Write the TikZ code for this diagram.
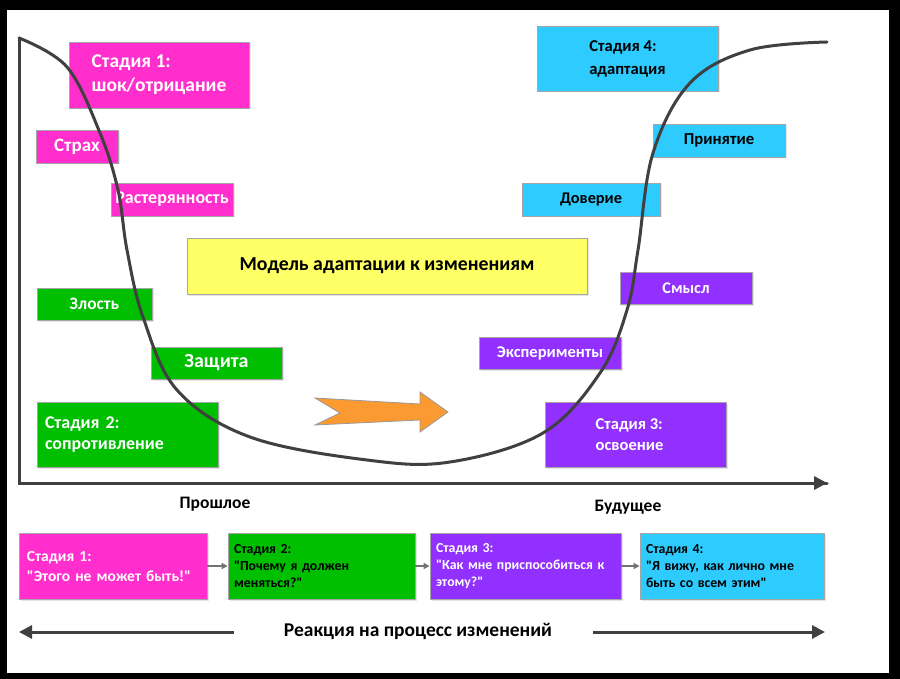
\documentclass[tikz,border=0pt]{standalone}
\usepackage{fontspec}
\setmainfont{Carlito}[Ligatures=TeXOff]
\usepackage{xcolor}
\usetikzlibrary{arrows.meta,shadows}
\definecolor{pinkst}{HTML}{FF2ECC}
\definecolor{greenst}{HTML}{00BE00}
\definecolor{cyanst}{HTML}{2ECBFF}
\definecolor{purplest}{HTML}{9130FF}
\definecolor{yellowst}{HTML}{FFFF66}
\definecolor{orangest}{HTML}{FA9A30}
\definecolor{linegray}{HTML}{404040}

\tikzset{
  box/.style={draw=gray!70, line width=0.7pt, inner sep=0pt, align=left,
    drop shadow={opacity=0.2, shadow xshift=1.5pt, shadow yshift=-1.5pt}},
  pinkbox/.style={box, fill=pinkst, text=white},
  greenbox/.style={box, fill=greenst, text=white},
  cyanbox/.style={box, fill=cyanst, text=black},
  purplebox/.style={box, fill=purplest, text=white},
  curve/.style={draw=linegray, line width=3pt},
  bigarrow/.style={draw=linegray, line width=3pt, -{Triangle[length=13pt,width=13pt]}},
  smallarrow/.style={draw=gray!90!black, line width=1.5pt, -{Triangle[length=6pt,width=6pt]}},
}

\begin{document}
\begin{tikzpicture}[x=1pt,y=-1pt]
\useasboundingbox (0,0) rectangle (900,679);
\fill[black] (0,0) rectangle (900,679);
\fill[white] (7,10) rectangle (889,673);

% stages on the curve
\node[pinkbox, minimum width=180pt, minimum height=66pt, font=\bfseries\fontsize{19.5}{24}\selectfont] (st1) at (159,75) {Стадия 1:\\шок/отрицание};
\node[pinkbox, minimum width=82pt, minimum height=33pt, font=\bfseries\fontsize{19}{20}\selectfont] (strah) at (77,146.5) {Страх};
\node[pinkbox, minimum width=122pt, minimum height=33pt, font=\bfseries\fontsize{18}{20}\selectfont] (rast) at (172,199.5) {Растерянность};
\node[box, fill=yellowst, minimum width=400pt, minimum height=56pt, font=\bfseries\fontsize{19.8}{22}\selectfont] (model) at (387,266) {\raisebox{3pt}{Модель адаптации к изменениям}};
\node[greenbox, minimum width=115pt, minimum height=32pt, font=\bfseries\fontsize{17.4}{19}\selectfont] (zlost) at (94.5,304) {Злость};
\node[greenbox, minimum width=131pt, minimum height=32pt, font=\bfseries\fontsize{20}{22}\selectfont] (zash) at (216.5,363) {Защита};
\node[greenbox, minimum height=65pt, text width=165pt, inner xsep=8pt, font=\bfseries\fontsize{17.9}{21}\selectfont] (st2) at (127.5,434.5) {Стадия 2:\\сопротивление};

\node[cyanbox, minimum width=181pt, minimum height=65pt, font=\bfseries\fontsize{16.6}{23}\selectfont] (st4) at (627.5,58.5) {Стадия 4:\\адаптация};
\node[cyanbox, minimum width=132pt, minimum height=33pt, font=\bfseries\fontsize{16.7}{18}\selectfont] (prin) at (719,140.5) {Принятие};
\node[cyanbox, minimum width=138pt, minimum height=33pt, font=\bfseries\fontsize{16.3}{18}\selectfont] (dov) at (591,199.5) {Доверие};
\node[purplebox, minimum width=132pt, minimum height=32pt, font=\bfseries\fontsize{16.3}{18}\selectfont] (smysl) at (686,288) {Смысл};
\node[purplebox, minimum width=142pt, minimum height=32pt, font=\bfseries\fontsize{16.5}{18}\selectfont] (eksp) at (550,353) {Эксперименты};
\node[purplebox, minimum width=181pt, minimum height=65pt, font=\bfseries\fontsize{16.5}{21}\selectfont] (st3) at (635.5,434.5) {\hspace*{-12pt}Стадия 3:\\\hspace*{-12pt}освоение};

% axes and curve
\coordinate (top) at (19,38);
\coordinate (corner) at (19,483);
\coordinate (far) at (827,483);
\draw[curve, line cap=round] (top) -- (corner) -- (far);
\fill[linegray] (far) -- ++(-13,-7) -- ++(0,14) -- cycle;
\draw[curve, line cap=round] plot[smooth, tension=0.6] coordinates {(19,38) (67,67) (100,133) (118,190)
  (127,250) (143,317) (177,390) (250,437) (367,460) (450,462) (543,433) (600,373) (627,310)
  (638,250) (653,153) (690,83) (750,50) (827,42)};

% orange arrow
\draw[fill=orangest, draw=gray!80, line width=0.8pt] (315,398) -- (420,404) -- (420,392) -- (448,412)
  -- (420,432) -- (420,420) -- (315,425) -- (340,413) -- cycle;

\node[font=\bfseries\fontsize{17.5}{19}\selectfont] (past) at (215,504) {Прошлое};
\node[font=\bfseries\fontsize{17.5}{19}\selectfont] (future) at (628,507) {Будущее};

% reactions
\node[pinkbox, minimum height=66pt, text width=172pt, inner xsep=8pt, font=\bfseries\fontsize{15.5}{20}\selectfont] (b1) at (113,566) {Стадия 1:\\"Этого не может быть!"};
\node[greenbox, text=black, minimum height=66pt, text width=175pt, inner xsep=6pt, font=\bfseries\fontsize{13.8}{17}\selectfont] (b2) at (321.5,566) {Стадия 2:\\"Почему я должен\\меняться?"};
\node[purplebox, minimum height=66pt, text width=179pt, inner xsep=6pt, font=\bfseries\fontsize{13.8}{17}\selectfont] (b3) at (525.5,566) {Стадия 3:\\"Как мне приспособиться к\\этому?"};
\node[cyanbox, minimum height=66pt, text width=172pt, inner xsep=6pt, font=\bfseries\fontsize{13.8}{17}\selectfont] (b4) at (732,566) {Стадия 4:\\"Я вижу, как лично мне\\быть со всем этим"};
\draw[smallarrow] (b1) -- (b2);
\draw[smallarrow] (b2) -- (b3);
\draw[smallarrow] (b3) -- (b4);

\node[font=\bfseries\fontsize{19.5}{21}\selectfont] (react) at (418,631) {Реакция на процесс изменений};
\coordinate (lstart) at (234,632);
\coordinate (lend) at (19,632);
\coordinate (rstart) at (593,632);
\coordinate (rend) at (825,632);
\draw[bigarrow] (lstart) -- (lend);
\draw[bigarrow] (rstart) -- (rend);
\end{tikzpicture}
\end{document}
